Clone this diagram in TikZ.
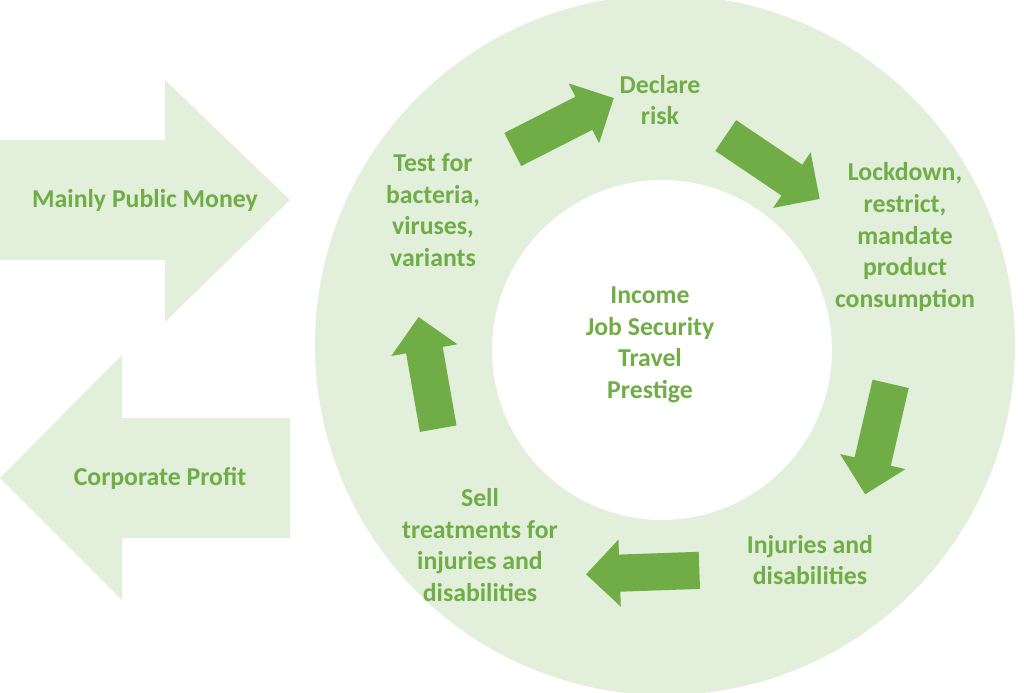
\documentclass[tikz,border=0pt]{standalone}
\usepackage{fontspec}
\setmainfont{Carlito}
\usetikzlibrary{shapes.arrows}
\definecolor{ringgreen}{HTML}{E2EFDA}
\definecolor{darkgreen}{HTML}{70AD47}
\tikzset{
	lbl/.style={text=darkgreen, font=\bfseries\fontsize{22}{27}\selectfont, align=center},
	cyclearrow/.style={single arrow, fill=darkgreen, minimum height=3.4cm, minimum width=2.0cm,
		single arrow head extend=0.45cm, inner sep=0pt, anchor=center}
}
\begin{document}
\begin{tikzpicture}[x=0.03cm, y=-0.03cm]
	\useasboundingbox (0,0) rectangle (1024,693);
	% ring
	\fill[ringgreen, even odd rule] (665,345) circle (350) (662,350) circle (170);
	% big arrows
	\fill[ringgreen] (0,140) -- (165,140) -- (165,80) -- (290,200) -- (165,322) -- (165,260) -- (0,260) -- cycle;
	\fill[ringgreen] (290,418) -- (122,418) -- (122,355) -- (0,478) -- (122,600) -- (122,538) -- (290,538) -- cycle;
	\node[lbl] (money) at (145,200) {Mainly Public Money};
	\node[lbl] (profit) at (160,478) {Corporate Profit};
	% cycle labels
	\node[lbl] (center) at (650,345) {Income\\Job Security\\Travel\\Prestige};
	\node[lbl] (declare) at (660,100) {Declare\\risk};
	\node[lbl] (lockdown) at (905,237) {Lockdown,\\restrict,\\mandate\\product\\consumption};
	\node[lbl] (injuries) at (810,560) {Injuries and\\disabilities};
	\node[lbl] (sell) at (480,545) {Sell\\treatments for\\injuries and\\disabilities};
	\node[lbl] (test) at (433,210) {Test for\\bacteria,\\viruses,\\variants};
	% cycle arrows
	\node[cyclearrow, rotate=27] (a1) at (555,128) {\rule{0pt}{1.1cm}};
	\node[cyclearrow, rotate=-34] (a2) at (765,162) {\rule{0pt}{1.1cm}};
	\node[cyclearrow, rotate=-103] (a3) at (880,430) {\rule{0pt}{1.1cm}};
	\node[cyclearrow, rotate=182] (a4) at (652,572) {\rule{0pt}{1.1cm}};
	\node[cyclearrow, rotate=100] (a5) at (430,382) {\rule{0pt}{1.1cm}};
\end{tikzpicture}
\end{document}
